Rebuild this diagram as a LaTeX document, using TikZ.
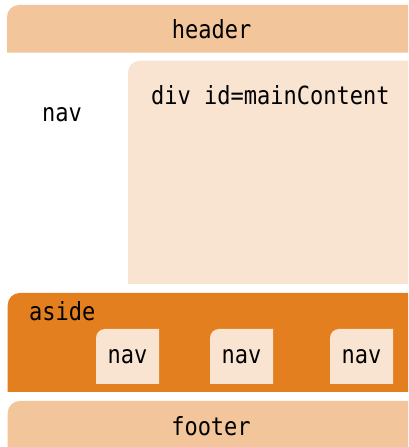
\documentclass[tikz,border=0pt]{standalone}
\usepackage{fontspec}
\newfontfamily\boxmono[FakeStretch=0.88]{DejaVu Sans Mono}
\definecolor{lightor}{HTML}{F2C59A}
\definecolor{paleor}{HTML}{F9E4D2}
\definecolor{darkor}{HTML}{E37F1F}
\newcommand\tlbox[6]{\fill[#1] (#2,#3) -- (#2,#5-#6) arc[start angle=180,end angle=90,radius=#6] -- (#4,#5) -- (#4,#3) -- cycle;}
\tikzset{lbl/.style={inner sep=0pt,anchor=base,font=\boxmono\fontsize{25pt}{28pt}\selectfont,text=black}}
\begin{document}
\begin{tikzpicture}[x=1pt,y=1pt]
\useasboundingbox (0,0) rectangle (408,447);
\fill[white] (0,0) rectangle (408,447);
% header
\tlbox{lightor}{7}{394.3}{408}{442}{12}
\node[lbl] (header) at (211.7,408.3) {header};
% main content
\tlbox{paleor}{128}{163}{408}{386.3}{12}
\node[lbl,anchor=base west] (main) at (151,342) {div id=mainContent};
\node[lbl] (nav) at (62,325.3) {nav};
% aside
\tlbox{darkor}{7.7}{55}{408}{154}{12}
\node[lbl,anchor=base west] (aside) at (29,126) {aside};
\tlbox{paleor}{96}{63}{159}{118}{9}
\tlbox{paleor}{210}{63}{273}{118}{9}
\tlbox{paleor}{330}{63}{393}{118}{9}
\node[lbl] (navA) at (127.5,83) {nav};
\node[lbl] (navB) at (241.5,83) {nav};
\node[lbl] (navC) at (361.5,83) {nav};
% footer
\tlbox{lightor}{7.7}{0}{408}{46}{12}
\node[lbl] (footer) at (211,12) {footer};
\end{tikzpicture}
\end{document}
